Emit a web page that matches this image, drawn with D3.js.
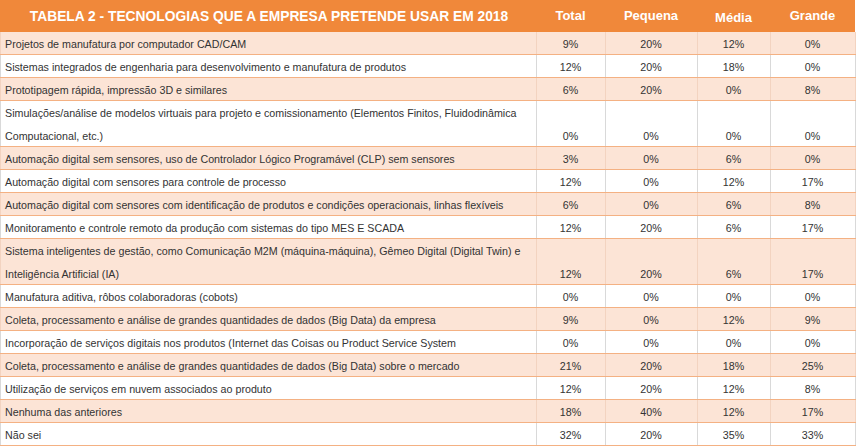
<!DOCTYPE html>
<html><head><meta charset="utf-8">
<script src="https://cdn.jsdelivr.net/npm/d3@7"></script>
<style>
html,body{margin:0;padding:0;background:#fff;}
svg{display:block;}
</style></head>
<body><div id="chart"></div>
<script>
const title = "TABELA 2 - TECNOLOGIAS QUE A EMPRESA PRETENDE USAR EM 2018";
const columns = ["Total", "Pequena", "Média", "Grande"];
const categories = [
  "Projetos de manufatura por computador CAD/CAM",
  "Sistemas integrados de engenharia para desenvolvimento e manufatura de produtos",
  "Prototipagem rápida, impressão 3D e similares",
  "Simulações/análise de modelos virtuais para projeto e comissionamento (Elementos Finitos, Fluidodinâmica\nComputacional, etc.)",
  "Automação digital sem sensores, uso de Controlador Lógico Programável (CLP) sem sensores",
  "Automação digital com sensores para controle de processo",
  "Automação digital com sensores com identificação de produtos e condições operacionais, linhas flexíveis",
  "Monitoramento e controle remoto da produção com sistemas do tipo MES E SCADA",
  "Sistema inteligentes de gestão, como Comunicação M2M (máquina-máquina), Gêmeo Digital (Digital Twin) e\nInteligência Artificial (IA)",
  "Manufatura aditiva, rôbos colaboradoras (cobots)",
  "Coleta, processamento e análise de grandes quantidades de dados (Big Data) da empresa",
  "Incorporação de serviços digitais nos produtos (Internet das Coisas ou Product Service System",
  "Coleta, processamento e análise de grandes quantidades de dados (Big Data) sobre o mercado",
  "Utilização de serviços em nuvem associados ao produto",
  "Nenhuma das anteriores",
  "Não sei"
];
const total   = [9, 12, 6, 0, 3, 12, 6, 12, 12, 0, 9, 0, 21, 12, 18, 32];
const pequena = [20, 20, 20, 0, 0, 0, 0, 20, 20, 0, 0, 0, 20, 20, 40, 20];
const media   = [12, 18, 0, 0, 6, 12, 6, 6, 6, 0, 12, 0, 18, 12, 12, 35];
const grande  = [0, 0, 8, 0, 0, 17, 8, 17, 17, 0, 9, 0, 25, 8, 17, 33];

const W = 856, H = 446, headerH = 32;
const colEdges = [0, 536, 605, 697, 770, 855];
const series = [total, pequena, media, grande];

const rows = categories.map((c, i) => ({
  lines: c.split("\n"),
  vals: series.map(s => s[i]),
  i
}));
let acc = 0;
rows.forEach(r => { r.start = acc; acc += r.lines.length; r.end = acc; });

const y = d3.scaleLinear().domain([0, acc]).range([headerH, H]);
const fmt = d3.format(".0%");
const bodyFont = "10.7px 'Liberation Sans', Arial, sans-serif";

const svg = d3.select("#chart").append("svg").attr("width", W).attr("height", H);

// header
svg.append("rect").attr("x", 0).attr("y", 0).attr("width", colEdges[5]).attr("height", headerH).attr("fill", "#F0883A");
svg.append("text").attr("x", (colEdges[0] + colEdges[1]) / 2 + 1).attr("y", 21)
  .attr("text-anchor", "middle").attr("fill", "#fff")
  .style("font", "bold 13.8px 'Liberation Sans', Arial, sans-serif").text(title);
svg.selectAll("text.colh").data(columns).join("text").attr("class", "colh")
  .attr("x", (d, j) => (colEdges[j + 1] + colEdges[j + 2]) / 2)
  .attr("y", (d, j) => j === 2 ? 22 : 20)
  .attr("text-anchor", "middle").attr("fill", "#fff")
  .style("font", "bold 13px 'Liberation Sans', Arial, sans-serif").text(d => d);

// rows
const g = svg.selectAll("g.row").data(rows).join("g").attr("class", "row");
g.append("rect").attr("x", 0).attr("y", d => y(d.start)).attr("width", colEdges[5])
  .attr("height", d => y(d.end) - y(d.start))
  .attr("fill", d => d.i % 2 === 0 ? "#FCE4D6" : "#FFFFFF");

// vertical dividers
g.each(function (d) {
  const sel = d3.select(this);
  [0, 1, 2, 3, 4, 5].forEach(k => {
    sel.append("line")
      .attr("x1", colEdges[k] + 0.5).attr("x2", colEdges[k] + 0.5)
      .attr("y1", y(d.start)).attr("y2", y(d.end))
      .attr("stroke", d.i % 2 === 0 ? "#F3D3C0" : "#D9D9D9").attr("stroke-width", 1);
  });
});

// horizontal lines
g.append("line").attr("x1", 0).attr("x2", colEdges[5] + 1)
  .attr("y1", d => Math.round(y(d.end)) - 0.5).attr("y2", d => Math.round(y(d.end)) - 0.5)
  .attr("stroke", "#F4B183").attr("stroke-width", 1);

// labels
g.each(function (d) {
  const sel = d3.select(this);
  d.lines.forEach((ln, k) => {
    sel.append("text").attr("x", 5).attr("y", y(d.start + k) + 15.5)
      .attr("fill", "#333").style("font", bodyFont).text(ln);
  });
  d.vals.forEach((v, j) => {
    sel.append("text").attr("x", (colEdges[j + 1] + colEdges[j + 2]) / 2)
      .attr("y", y(d.end - 1) + 15.5).attr("text-anchor", "middle")
      .attr("fill", "#333").style("font", bodyFont).text(fmt(v / 100));
  });
});
</script>
</body></html>
